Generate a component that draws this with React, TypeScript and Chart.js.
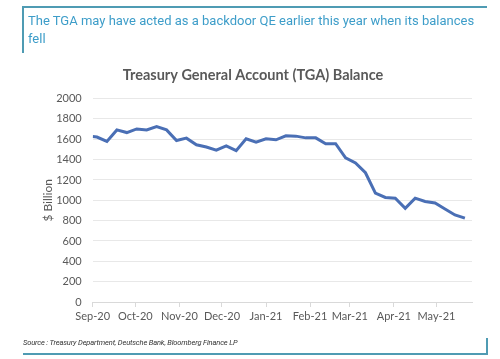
import React, { useEffect, useRef } from "react";
import { Chart, registerables } from "chart.js";

Chart.register(...registerables);

// Observation dates (weekly) and TGA balances in $ billion
const dates = [
  "2020-09-01", "2020-09-04", "2020-09-11", "2020-09-18", "2020-09-25",
  "2020-10-02", "2020-10-09", "2020-10-16", "2020-10-23", "2020-10-30",
  "2020-11-06", "2020-11-13", "2020-11-20", "2020-11-27",
  "2020-12-04", "2020-12-11", "2020-12-18", "2020-12-25",
  "2021-01-01", "2021-01-08", "2021-01-15", "2021-01-22", "2021-01-29",
  "2021-02-05", "2021-02-12", "2021-02-19", "2021-02-26",
  "2021-03-05", "2021-03-12", "2021-03-19", "2021-03-26",
  "2021-04-02", "2021-04-09", "2021-04-16", "2021-04-23", "2021-04-30",
  "2021-05-07", "2021-05-14", "2021-05-21",
];
const balances = [
  1627, 1622, 1579, 1692, 1666,
  1702, 1692, 1724, 1692, 1588,
  1611, 1546, 1524, 1494,
  1536, 1488, 1605, 1572,
  1605, 1595, 1634, 1631, 1614,
  1614, 1556, 1556, 1417,
  1368, 1271, 1070, 1028,
  1021, 921, 1021, 989, 973,
  915, 856, 824,
];
const monthTicks = [
  "2020-09-01", "2020-10-01", "2020-11-01", "2020-12-01", "2021-01-01",
  "2021-02-01", "2021-03-01", "2021-04-01", "2021-05-01",
];
const monthLabels = [
  "Sep-20", "Oct-20", "Nov-20", "Dec-20", "Jan-21",
  "Feb-21", "Mar-21", "Apr-21", "May-21",
];
const axisStart = "2020-09-01";
const axisEnd = "2021-05-26";

const headerText = "The TGA may have acted as a backdoor QE earlier this year when its balances";
const headerText2 = "fell";
const chartTitle = "Treasury General Account (TGA) Balance";
const yTitle = "$ Billion";
const sourceText = "Source : Treasury Department, Deutsche Bank, Bloomberg Finance LP";

const dayOf = (s: string) => (Date.parse(s) - Date.parse(axisStart)) / 86400000;

const GREY = "#595959";
const FRAME = "#4f9bb3";

export default function App() {
  const ref = useRef<HTMLCanvasElement | null>(null);

  useEffect(() => {
    if (!ref.current) return;
    const chart = new Chart(ref.current, {
      type: "line",
      data: {
        datasets: [
          {
            data: dates.map((d, i) => ({ x: dayOf(d), y: balances[i] })),
            borderColor: "#4a6fb5",
            borderWidth: 3,
            pointRadius: 0,
            tension: 0,
            fill: false,
          },
        ],
      },
      options: {
        animation: false,
        responsive: false,
        maintainAspectRatio: false,
        layout: { padding: { left: 34, right: 28, top: 55, bottom: 27 } },
        plugins: {
          legend: { display: false },
          tooltip: { enabled: false },
          title: {
            display: true,
            text: chartTitle,
            color: GREY,
            font: { family: "Lato", size: 14.5, weight: "bold" },
            padding: { top: 12, bottom: 14.2 },
          },
        },
        scales: {
          x: {
            type: "linear",
            min: 0,
            max: dayOf(axisEnd),
            afterBuildTicks: (s: any) => {
              s.ticks = monthTicks.map((d) => ({ value: dayOf(d) }));
            },
            afterFit: (s: any) => {
              s.height = 30;
            },
            ticks: {
              autoSkip: false,
              maxRotation: 0,
              padding: 3,
              color: GREY,
              font: { family: "Lato", size: 11 },
              callback: (_v: any, i: number) => monthLabels[i],
            },
            grid: {
              drawOnChartArea: false,
              drawTicks: true,
              tickLength: 5,
              color: "#d9d9d9",
            },
            border: { display: true, color: "#d9d9d9" },
          },
          y: {
            min: 0,
            max: 2000,
            afterFit: (s: any) => {
              s.width = 58.7;
            },
            ticks: {
              stepSize: 200,
              padding: 11,
              color: GREY,
              font: { family: "Lato", size: 11 },
              callback: (v: any) => String(v),
            },
            grid: { color: "#e8e8e8", drawTicks: false },
            border: { display: false },
            title: {
              display: true,
              text: yTitle,
              color: GREY,
              font: { family: "Lato", size: 12 },
              padding: { top: 7, bottom: 0 },
            },
          },
        },
      },
    } as any);
    return () => chart.destroy();
  }, []);

  return (
    <div style={{ position: "absolute", left: 0, top: 0, width: 500, height: 359, background: "#fff", overflow: "hidden" }}>
      <canvas ref={ref} width={500} height={359} style={{ position: "absolute", left: 0, top: 0, width: 500, height: 359 }} />
      <div style={{ position: "absolute", left: 22, top: 6, width: 465, height: 2, background: FRAME }} />
      <div style={{ position: "absolute", left: 22, top: 6, width: 1.5, height: 47, background: FRAME }} />
      <div
        style={{
          position: "absolute",
          left: 28,
          top: 12,
          fontFamily: "Roboto",
          fontSize: 13,
          lineHeight: "18px",
          color: "#3d9dc9",
          whiteSpace: "nowrap",
        }}
      >
        {headerText}
        <br />
        {headerText2}
      </div>
      <div
        style={{
          position: "absolute",
          left: 23,
          top: 338,
          fontFamily: "Roboto",
          fontStyle: "italic",
          fontSize: 7.5,
          letterSpacing: -0.15,
          lineHeight: "10px",
          color: "#333",
          whiteSpace: "nowrap",
        }}
      >
        {sourceText}
      </div>
      <div style={{ position: "absolute", left: 23, top: 353, width: 465, height: 2, background: FRAME }} />
      <div style={{ position: "absolute", left: 486, top: 338, width: 1.5, height: 17, background: FRAME }} />
    </div>
  );
}
